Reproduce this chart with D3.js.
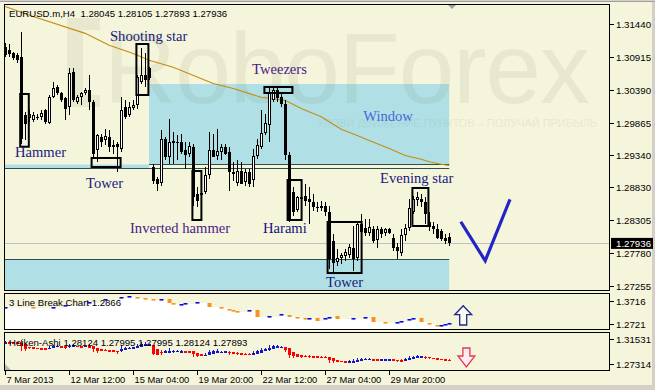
<!DOCTYPE html>
<html><head><meta charset="utf-8">
<script src="https://cdn.jsdelivr.net/npm/d3@7"></script>
<style>html,body{margin:0;padding:0;background:#d4d0c8;overflow:hidden}svg{display:block}text{white-space:pre}</style>
</head><body><svg id="c" width="655" height="390"></svg>
<script>
// ---------- DATA ----------
const symbol = "EURUSD.m,H4";
const lastOHLC = [1.28045, 1.28105, 1.27893, 1.27936];
const opens = [1.3108,1.3102,1.3097,1.3094,1.3091,1.2998,1.2993,1.2990,1.2996,1.2995,
1.3006,1.2985,1.3027,1.3043,1.3033,1.3025,1.3011,1.3067,1.3019,1.3027,
1.3033,1.3038,1.3019,1.2942,1.2964,1.2958,1.2964,1.2950,1.2952,1.2944,
1.3011,1.2998,1.3009,1.3014,1.3051,1.3062,1.3073,1.2916,1.2897,1.2889,
1.2960,1.2931,1.2955,1.2956,1.2955,1.2942,1.2936,1.2948,1.2873,1.2870,
1.2875,1.2902,1.2942,1.2932,1.2939,1.2947,1.2940,1.2908,1.2889,1.2910,
1.2891,1.2907,1.2894,1.2932,1.2947,1.2969,1.2982,1.3022,1.3038,1.3028,
1.3017,1.2934,1.2875,1.2846,1.2867,1.2870,1.2864,1.2860,1.2852,1.2851,
1.2854,1.2843,1.2798,1.2763,1.2769,1.2772,1.2774,1.2787,1.2769,1.2811,
1.2819,1.2809,1.2816,1.2798,1.2816,1.2809,1.2816,1.2803,1.2788,1.2777,
1.2806,1.2817,1.2843,1.2862,1.2865,1.2860,1.2827,1.2822,1.2817,1.2814,
1.2803,1.28045];
const highs = [1.3113,1.3112,1.3099,1.3097,1.3131,1.3004,1.3006,1.3003,1.3001,1.3006,
1.3009,1.3030,1.3051,1.3046,1.3036,1.3027,1.3073,1.3073,1.3030,1.3036,
1.3041,1.3062,1.3022,1.2969,1.2969,1.2977,1.2974,1.2958,1.2955,1.3027,
1.3022,1.3019,1.3022,1.3062,1.3105,1.3097,1.3076,1.2921,1.2900,1.2974,
1.2964,1.2993,1.2971,1.2966,1.2969,1.2955,1.2955,1.2953,1.2883,1.2878,
1.2915,1.2971,1.2969,1.2976,1.2953,1.2953,1.2947,1.2923,1.2926,1.2923,
1.2913,1.2913,1.2945,1.2961,1.3006,1.3001,1.3044,1.3044,1.3044,1.3035,
1.3022,1.2939,1.2883,1.2870,1.2884,1.2889,1.2883,1.2873,1.2859,1.2862,
1.2859,1.2854,1.2809,1.2785,1.2779,1.2785,1.2793,1.2822,1.2830,1.2841,
1.2833,1.2833,1.2822,1.2822,1.2820,1.2819,1.2819,1.2809,1.2795,1.2817,
1.2825,1.2865,1.2870,1.2875,1.2873,1.2868,1.2843,1.2828,1.2825,1.2817,
1.2808,1.28105];
const lows = [1.3091,1.3091,1.3086,1.3081,1.2953,1.2958,1.2987,1.2987,1.2990,1.2990,
1.2985,1.2984,1.3025,1.3030,1.3019,1.2990,1.2998,1.3019,1.3016,1.3014,
1.3030,1.3006,1.2931,1.2923,1.2948,1.2950,1.2939,1.2937,1.2907,1.2940,
1.2992,1.2995,1.3006,1.3009,1.3048,1.3044,1.3054,1.2889,1.2878,1.2886,
1.2926,1.2921,1.2921,1.2926,1.2937,1.2912,1.2931,1.2854,1.2851,1.2867,
1.2873,1.2897,1.2931,1.2926,1.2926,1.2934,1.2878,1.2894,1.2886,1.2888,
1.2886,1.2884,1.2884,1.2929,1.2945,1.2966,1.2955,1.3019,1.3019,1.3012,
1.2926,1.2828,1.2838,1.2843,1.2833,1.2854,1.2825,1.2846,1.2843,1.2846,
1.2838,1.2753,1.2748,1.2758,1.2761,1.2766,1.2771,1.2750,1.2766,1.2801,
1.2806,1.2806,1.2795,1.2787,1.2803,1.2806,1.2808,1.2782,1.2769,1.2774,
1.2798,1.2814,1.2840,1.2854,1.2852,1.2824,1.2814,1.2809,1.2801,1.2798,
1.2793,1.27893];
const closes = [1.3094,1.3096,1.3089,1.3086,1.2961,1.2985,1.3000,1.2998,1.2995,1.3001,
1.2987,1.3027,1.3041,1.3033,1.3022,1.3009,1.3065,1.3022,1.3027,1.3033,
1.3038,1.3019,1.2937,1.2966,1.2955,1.2964,1.2947,1.2947,1.2947,1.3006,
1.2995,1.3011,1.3014,1.3059,1.3062,1.3054,1.3057,1.2894,1.2888,1.2960,
1.2931,1.2955,1.2956,1.2955,1.2940,1.2934,1.2948,1.2867,1.2862,1.2873,
1.2902,1.2942,1.2932,1.2940,1.2947,1.2937,1.2907,1.2905,1.2908,1.2889,
1.2907,1.2889,1.2932,1.2950,1.2969,1.2985,1.3035,1.3038,1.3025,1.3016,
1.2934,1.2832,1.2844,1.2867,1.2864,1.2862,1.2859,1.2851,1.2850,1.2852,
1.2843,1.2769,1.2763,1.2769,1.2774,1.2779,1.2787,1.2769,1.2824,1.2824,
1.2811,1.2819,1.2798,1.2816,1.2809,1.2816,1.2811,1.2787,1.2782,1.2806,
1.2817,1.2849,1.2864,1.2867,1.2859,1.2840,1.2820,1.2817,1.2803,1.2801,
1.2798,1.27936];
// moving average read at selected bars
const maBars   = [0,7,20,26,32,36,42,52,57,64,70,74,79,84,88,91,96,100,104,106,109,111];
const maValues = [1.3172,1.3156,1.3129,1.3110,1.3097,1.3086,1.3075,1.3049,1.3041,1.3027,1.3022,1.3009,1.2996,1.2976,1.2966,1.2958,1.2945,1.2934,1.2928,1.2924,1.2920,1.2918];
const priceTicks = [1.31440,1.30915,1.30390,1.29865,1.29340,1.28830,1.28305,1.27780,1.27255];
const priceTickLabels = ["1.31440","1.30915","1.30390","1.29865","1.29340","1.28830","1.28305","1.27780","1.27255"];
const dateTickBars = [0,16,32,48,64,80,96];
const dateTickLabels = ["7 Mar 2013","12 Mar 12:00","15 Mar 04:00","19 Mar 20:00","22 Mar 12:00","27 Mar 04:00","29 Mar 20:00"];
// 3 Line Break bricks
const lbBars  = [0,7,12,15,21,25,29,31,33,35,37,39,41,42,44,45,48,51,54,56,57,58,61,63,66,69,71,73,75,76,78,80,81,83,87,90,92,95,98,99,101,102,104,106,108,109,110,111];
const lbOpen  = [1.3413,1.3456,1.3413,1.3500,1.3629,1.3759,1.3846,1.3889,1.3889,1.3846,1.3803,1.3759,1.3803,1.3629,1.3543,1.3586,1.3629,1.3629,1.3456,1.3370,1.3327,1.3283,1.3283,1.3327,1.3024,1.3110,1.3110,1.3024,1.2981,1.2937,1.2981,1.2937,1.2981,1.3067,1.2937,1.2981,1.3024,1.2808,1.2764,1.2808,1.2894,1.2937,1.2981,1.2764,1.2678,1.2635,1.2678,1.2721];
const lbClose = [1.3456,1.3413,1.3456,1.3543,1.3673,1.3803,1.3889,1.3932,1.3846,1.3803,1.3759,1.3803,1.3629,1.3586,1.3586,1.3629,1.3673,1.3456,1.3413,1.3327,1.3283,1.3240,1.3327,1.3024,1.3067,1.3154,1.3024,1.2981,1.2937,1.2981,1.2851,1.2981,1.3024,1.2937,1.2981,1.3024,1.2808,1.2764,1.2808,1.2851,1.2937,1.2981,1.2808,1.2721,1.2635,1.2678,1.2721,1.2764];
const lbTicks = [1.3716,1.2721];
const haTicks = [1.31531,1.27314];
const lbHeader = "3 Line Break Chart 1.2866";
const haHeader = "Heiken-Ashi 1.28124 1.27995 1.27995 1.28124 1.27893";
// annotations
const labelTexts  = ["Shooting star","Tweezers","Window","Hammer","Tower","Inverted hammer","Harami","Evening star","Tower"];
const labelBars   = [26.2,61.7,89.5,2.45,20.2,31.2,64.45,93.7,80.2];
const labelPrices = [1.3117,1.3064,1.2989,1.2932,1.2882,1.2810,1.2810,1.2890,1.2724];
const labelColors = ["#1a1a7c","#4b1a86","#4a66d8","#1a1a7c","#1a1a7c","#4b1a86","#10107c","#1a1a7c","#1a1a7c"];
// pattern boxes: bar from, bar to, price top, price bottom
const boxFrom = [3.75,21.6,32.8,64.8,46.8,70.6,80.6,101.8];
const boxTo   = [5.9,28.85,35.8,71.8,49.05,74.1,89.1,105.8];
const boxTop  = [1.30322,1.29300,1.31120,1.30434,1.29092,1.28948,1.28278,1.28821];
const boxBot  = [1.29480,1.29156,1.30306,1.30338,1.28310,1.28310,1.27463,1.28214];
// forecast check mark
const checkBars = [113.9,120,126.2];
const checkValues = [1.28282,1.27659,1.2864];

// ---------- SCALES ----------
const svg = d3.select("#c");
const beige = "#f5f5dc", pblue = "#b0e0e6", slate = "#2f4f4f";
const x = d3.scaleLinear().domain([0,111]).range([5.2,449.2]);
const y = d3.scaleLinear().domain([1.27192,1.31759]).range([290,4]);
const yLB = d3.scaleLinear().domain([1.2721,1.3716]).range([324,301]);
const yHA = d3.scaleLinear().domain([1.27314,1.31531]).range([364,339]);
const uiFont = "'Liberation Sans', Arial, sans-serif";

// frame
svg.append("rect").attr("x",0).attr("y",0).attr("width",655).attr("height",390).attr("fill","#d4d0c8");
svg.append("rect").attr("x",0).attr("y",2).attr("width",652).attr("height",383).attr("fill",beige);
svg.append("line").attr("x1",0).attr("x2",655).attr("y1",1.5).attr("y2",1.5).attr("stroke","#a0a0a0");

const defs = svg.append("defs");
defs.append("clipPath").attr("id","mainClip").append("rect").attr("x",5).attr("y",5).attr("width",604).attr("height",285);
defs.append("clipPath").attr("id","lbClip").append("rect").attr("x",5).attr("y",294).attr("width",604).attr("height",35);
defs.append("clipPath").attr("id","haClip").append("rect").attr("x",5).attr("y",333).attr("width",604).attr("height",37);

// ---------- MAIN PANEL ----------
const main = svg.append("g").attr("clip-path","url(#mainClip)");
main.append("rect").attr("x",x(35.95)).attr("y",y(1.30481)).attr("width",x(111)-x(35.95)).attr("height",y(1.29188)-y(1.30481)).attr("fill",pblue);
main.append("rect").attr("x",x(-0.05)).attr("y",y(1.29196)).attr("width",x(35.95)-x(-0.05)).attr("height",y(1.2914)-y(1.29196)).attr("fill",pblue);
main.append("rect").attr("x",x(-0.05)).attr("y",y(1.27687)).attr("width",x(111)-x(-0.05)).attr("height",y(1.27192)-y(1.27687)+2).attr("fill",pblue);

// watermark
const wm = main.append("g").attr("fill","#7a7a58").attr("opacity",0.1);
wm.append("path").attr("d","M67,18 H100 V30 H83 V95 H100 V107 H67 Z");
wm.append("text").attr("x",104).attr("y",103).attr("font-family",uiFont).attr("font-size",100).attr("textLength",486).text("RoboForex");
wm.append("text").attr("x",317).attr("y",127).attr("font-family",uiFont).attr("font-size",11).attr("textLength",280).text("УЛОВИ ДВИЖЕНИЕ ПУНКТОВ – ПОЛУЧАЙ ПРИБЫЛЬ");

// horizontal lines
const hl = (b0,b1,p,col) => main.append("line").attr("x1",x(b0)).attr("x2",x(b1)).attr("y1",Math.round(y(p))+0.5).attr("y2",Math.round(y(p))+0.5).attr("stroke",col).attr("stroke-width",1);
hl(35.95,111,1.2920,slate);
hl(-0.05,111,1.29135,slate);
hl(-0.05,111,1.27687,slate);
main.append("line").attr("x1",5).attr("x2",609).attr("y1",Math.round(y(lastOHLC[3]))+0.5).attr("y2",Math.round(y(lastOHLC[3]))+0.5).attr("stroke","#c0c0c0");

// moving average
main.append("path").datum(maBars.map((b,i)=>[b,maValues[i]]))
  .attr("d",d3.line().x(d=>x(d[0])).y(d=>y(d[1]))).attr("fill","none").attr("stroke","#c48c12").attr("stroke-width",1.1);

// candles
const cg = main.append("g").attr("shape-rendering","crispEdges");
opens.forEach((o,i)=>{
  const c = closes[i], xc = Math.round(x(i));
  cg.append("line").attr("x1",xc+0.5).attr("x2",xc+0.5).attr("y1",y(highs[i])).attr("y2",y(lows[i])).attr("stroke","#000");
  const top = y(Math.max(o,c)), bot = y(Math.min(o,c)), h = Math.max(1,bot-top);
  if (c < o) cg.append("rect").attr("x",xc-1).attr("y",top).attr("width",3).attr("height",h).attr("fill","#000");
  else cg.append("rect").attr("x",xc-0.5).attr("y",top).attr("width",2).attr("height",Math.max(0.5,h-1)).attr("fill","#fff").attr("stroke","#000");
});

// pattern boxes
boxFrom.forEach((b,i)=>{
  main.append("rect").attr("x",x(b)).attr("y",y(boxTop[i])).attr("width",x(boxTo[i])-x(b)).attr("height",y(boxBot[i])-y(boxTop[i]))
    .attr("fill","none").attr("stroke","#000").attr("stroke-width",2);
});

// labels
labelTexts.forEach((t,i)=>{
  main.append("text").attr("x",x(labelBars[i])).attr("y",y(labelPrices[i])).attr("font-family","'Liberation Serif','Times New Roman',serif")
    .attr("font-size",14.6).attr("fill",labelColors[i]).text(t);
});

// check mark
main.append("path").datum(checkBars.map((b,i)=>[b,checkValues[i]]))
  .attr("d",d3.line().x(d=>x(d[0])).y(d=>y(d[1]))).attr("fill","none").attr("stroke","#2323c8").attr("stroke-width",3.2).attr("stroke-linejoin","miter");

// header
svg.append("text").attr("x",9).attr("y",17).attr("font-family",uiFont).attr("font-size",9.6).attr("fill","#000")
  .text(symbol+"  "+lastOHLC.map(v=>v.toFixed(5)).join(" "));
svg.append("path").attr("d",`M${x(111.7)-5},4 h10 l-5,5 z`).attr("fill","#a0a0a0");

// ---------- 3 LINE BREAK ----------
const lb = svg.append("g").attr("clip-path","url(#lbClip)");
const lbLevel = [];
for (let b=0,k=-1;b<=111;b++){ while(k+1<lbBars.length && lbBars[k+1]<=b) k++; lbLevel.push([b, Math.min(lbOpen[k],lbClose[k])]); }
lbLevel.push([111.25, lbLevel[lbLevel.length-1][1]]);
lb.append("path").datum(lbLevel).attr("d",d3.area().curve(d3.curveStepAfter).x(d=>x(d[0])-1).y0(330).y1(d=>yLB(d[1]))).attr("fill","#fff");
lbBars.forEach((b,i)=>{
  const up = lbClose[i]>lbOpen[i];
  const t = yLB(Math.max(lbOpen[i],lbClose[i])), bt = yLB(Math.min(lbOpen[i],lbClose[i]));
  lb.append("rect").attr("x",Math.round(x(b))-1.5).attr("y",t).attr("width",4).attr("height",Math.max(1.6,bt-t)).attr("fill",up?"#0a0ae0":"#f7941d");
});
svg.append("text").attr("x",9).attr("y",306).attr("font-family",uiFont).attr("font-size",9.6).attr("fill","#000").text(lbHeader);
{
  const cx = x(114.5), t = yLB(1.3513), b = yLB(1.2678), hb = t+9;
  svg.append("path").attr("d",`M${cx},${t} L${cx+8.5},${hb} H${cx+3.5} V${b} H${cx-3.5} V${hb} H${cx-8.5} Z`)
    .attr("fill","#fbfbf6").attr("stroke","#1c2a8c").attr("stroke-width",1.3);
}

// ---------- HEIKEN ASHI ----------
const ha = svg.append("g").attr("clip-path","url(#haClip)").attr("shape-rendering","crispEdges");
let pO=null,pC=null;
opens.forEach((o,i)=>{
  const hc = (o+highs[i]+lows[i]+closes[i])/4;
  const ho = pO===null ? (o+closes[i])/2 : (pO+pC)/2;
  const hh = Math.max(highs[i],ho,hc), hlw = Math.min(lows[i],ho,hc);
  pO=ho; pC=hc;
  const col = hc>=ho ? "#1414c8" : "#ff0000", xc = Math.round(x(i));
  ha.append("line").attr("x1",xc+0.5).attr("x2",xc+0.5).attr("y1",yHA(hh)).attr("y2",yHA(hlw)).attr("stroke",col);
  const t = yHA(Math.max(ho,hc)), bt = yHA(Math.min(ho,hc));
  ha.append("rect").attr("x",xc-1).attr("y",t).attr("width",3).attr("height",Math.max(1.5,bt-t)).attr("fill",col);
});
svg.append("text").attr("x",9).attr("y",346).attr("font-family",uiFont).attr("font-size",9.6).attr("fill","#000").text(haHeader);
svg.append("path").attr("d","M5,370 L5,364 L11,370 Z").attr("fill","#b8b8b8");
{
  const cx = x(115.3), t = yHA(1.3001), b = yHA(1.2681), hb = b-11;
  svg.append("path").attr("d",`M${cx-3.5},${t} H${cx+3.5} V${hb} H${cx+8.5} L${cx},${b} L${cx-8.5},${hb} H${cx-3.5} Z`)
    .attr("fill","#fdecef").attr("stroke","#e23a55").attr("stroke-width",1.3);
}

// ---------- PANEL BORDERS ----------
const border = (y0,y1)=> svg.append("rect").attr("x",4.5).attr("y",y0).attr("width",605).attr("height",y1-y0).attr("fill","none").attr("stroke","#000").attr("stroke-width",1);
border(4.5,290.5); border(293.5,329.5); border(332.5,370.5);

// ---------- AXES ----------
const ax = svg.append("g").attr("font-family",uiFont).attr("font-size",9.7).attr("fill","#000");
priceTicks.forEach((v,i)=>{
  const yy = Math.round(y(v))+0.5;
  ax.append("line").attr("x1",610).attr("x2",614).attr("y1",yy).attr("y2",yy).attr("stroke","#000");
  ax.append("text").attr("x",616).attr("y",yy+3.5).text(priceTickLabels[i]);
});
lbTicks.forEach(v=>{ const yy=Math.round(yLB(v))+0.5;
  ax.append("line").attr("x1",610).attr("x2",614).attr("y1",yy).attr("y2",yy).attr("stroke","#000");
  ax.append("text").attr("x",616).attr("y",yy+3.5).text(v.toFixed(4)); });
haTicks.forEach(v=>{ const yy=Math.round(yHA(v))+0.5;
  ax.append("line").attr("x1",610).attr("x2",614).attr("y1",yy).attr("y2",yy).attr("stroke","#000");
  ax.append("text").attr("x",616).attr("y",yy+3.5).text(v.toFixed(5)); });
{
  const yy = y(lastOHLC[3]);
  svg.append("rect").attr("x",611).attr("y",yy-5.5).attr("width",42).attr("height",11).attr("fill","#000");
  svg.append("text").attr("x",616).attr("y",yy+3.5).attr("font-family",uiFont).attr("font-size",9.7).attr("fill","#fff").text(lastOHLC[3].toFixed(5));
}
dateTickBars.forEach((b,i)=>{
  const xx = Math.round(x(b))+0.5;
  ax.append("line").attr("x1",xx).attr("x2",xx).attr("y1",370).attr("y2",375).attr("stroke","#000");
  ax.append("text").attr("x",xx+1).attr("y",382.5).attr("font-size",9.3).text(dateTickLabels[i]);
});
</script></body></html>
